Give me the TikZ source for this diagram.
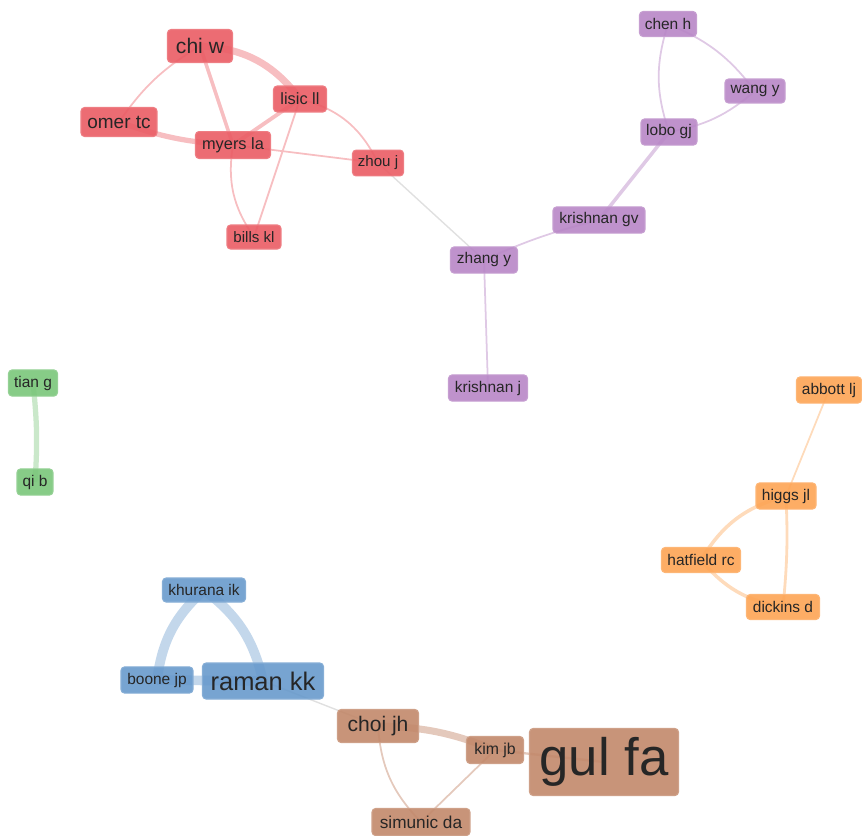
\documentclass[tikz,border=0pt]{standalone}
\usepackage{xcolor}
\usepackage{tikz}
\usepackage{fontspec}
\setmainfont{Liberation Sans}
\usetikzlibrary{backgrounds}

\definecolor{redc}{RGB}{234,92,100}
\definecolor{purc}{RGB}{184,134,198}
\definecolor{grnc}{RGB}{122,198,122}
\definecolor{orgc}{RGB}{253,164,84}
\definecolor{bluc}{RGB}{104,154,204}
\definecolor{brnc}{RGB}{194,136,106}

\tikzset{
  au/.style={rounded corners=2pt, text=black!85, inner xsep=0pt, line width=0.6pt, fill opacity=0.9, text opacity=1},
  sz/.style n args={3}{font=\fontsize{#1}{#1}\selectfont, minimum width=#2, minimum height=#3},
  redn/.style={au, fill=redc, draw=redc!80!white},
  purn/.style={au, fill=purc, draw=purc!80!white},
  grnn/.style={au, fill=grnc, draw=grnc!80!white},
  orgn/.style={au, fill=orgc, draw=orgc!80!white},
  blun/.style={au, fill=bluc, draw=bluc!80!white},
  brnn/.style={au, fill=brnc, draw=brnc!80!white},
  redl/.style={draw=redc!40, line width=#1},
  purl/.style={draw=purc!45, line width=#1},
  grnl/.style={draw=grnc!40, line width=#1},
  orgl/.style={draw=orgc!40, line width=#1},
  blul/.style={draw=bluc!40, line width=#1},
  brnl/.style={draw=brnc!45, line width=#1},
  greyl/.style={draw=black!12, line width=0.8pt}
}

\begin{document}
\begin{tikzpicture}[x=0.02cm, y=-0.02cm]
  \useasboundingbox (0,0) rectangle (862,835);
  % red cluster
  \draw (200,46) node[redn, sz={12pt}{1.30cm}{0.66cm}] (chi) {chi w}
   (300,99) node[redn, sz={9.3pt}{1.06cm}{0.52cm}] (lisic) {lisic ll}
   (119,122) node[redn, sz={10.8pt}{1.52cm}{0.58cm}] (omer) {omer tc}
   (233,145) node[redn, sz={9.3pt}{1.50cm}{0.52cm}] (myers) {myers la}
   (378,163) node[redn, sz={8.6pt}{1.02cm}{0.48cm}] (zhou) {zhou j}
   (254,237) node[redn, sz={8.6pt}{1.08cm}{0.48cm}] (bills) {bills kl};
  % purple cluster
  \draw (668,24) node[purn, sz={8.8pt}{1.14cm}{0.50cm}] (chen) {chen h}
   (755,91) node[purn, sz={8.8pt}{1.20cm}{0.48cm}] (wang) {wang y}
   (669,132) node[purn, sz={8.8pt}{1.12cm}{0.50cm}] (lobo) {lobo gj}
   (599,220) node[purn, sz={8.8pt}{1.84cm}{0.48cm}] (krgv) {krishnan gv}
   (484,260) node[purn, sz={8.8pt}{1.34cm}{0.48cm}] (zhang) {zhang y}
   (488,388) node[purn, sz={8.8pt}{1.58cm}{0.50cm}] (krj) {krishnan j};
  % green cluster
  \draw (33,383) node[grnn, sz={8.8pt}{0.98cm}{0.50cm}] (tian) {tian g}
   (35,482) node[grnn, sz={8.8pt}{0.72cm}{0.50cm}] (qi) {qi b};
  % orange cluster
  \draw (829,390) node[orgn, sz={8.8pt}{1.30cm}{0.50cm}] (abbott) {abbott lj}
   (786,496) node[orgn, sz={8.8pt}{1.20cm}{0.48cm}] (higgs) {higgs jl}
   (701,560) node[orgn, sz={8.8pt}{1.58cm}{0.50cm}] (hatfield) {hatfield rc}
   (783,607) node[orgn, sz={8.8pt}{1.46cm}{0.50cm}] (dickins) {dickins d};
  % blue cluster
  \draw (204,590) node[blun, sz={8.8pt}{1.66cm}{0.48cm}] (khurana) {khurana ik}
   (157,680) node[blun, sz={8.8pt}{1.44cm}{0.48cm}] (boone) {boone jp}
   (263,681) node[blun, sz={14.5pt}{2.42cm}{0.72cm}] (raman) {raman kk};
  % brown cluster
  \draw (378,726) node[brnn, sz={12pt}{1.62cm}{0.66cm}] (choi) {choi jh}
   (495,750) node[brnn, sz={9pt}{1.14cm}{0.54cm}] (kim) {kim jb}
   (604,762) node[brnn, sz={30pt}{2.98cm}{1.34cm}] (gul) {gul fa}
   (421,822) node[brnn, sz={9.8pt}{1.96cm}{0.54cm}] (simunic) {simunic da};

  \begin{pgfonlayer}{background}
  \draw[redl=4pt] (chi.center) to[bend left=25] (lisic.center);
  \draw[redl=1pt] (chi.center) to[bend right=12] (omer.center);
  \draw[redl=2pt] (chi.center) -- (myers.center);
  \draw[redl=3pt] (omer.center) to[bend right=8] (myers.center);
  \draw[redl=2.2pt] (myers.center) -- (lisic.center);
  \draw[redl=1pt] (myers.center) -- (zhou.center);
  \draw[redl=1pt] (myers.center) to[bend right=22] (bills.center);
  \draw[redl=1pt] (lisic.center) -- (bills.center);
  \draw[redl=1pt] (lisic.center) to[bend left=25] (zhou.center);
  \draw[greyl] (zhou.center) -- (zhang.center);
  \draw[purl=1pt] (chen.center) to[bend right=18] (lobo.center);
  \draw[purl=1pt] (chen.center) to[bend left=15] (wang.center);
  \draw[purl=1pt] (wang.center) to[bend left=15] (lobo.center);
  \draw[purl=2pt] (lobo.center) -- (krgv.center);
  \draw[purl=1pt] (krgv.center) to[bend right=5] (zhang.center);
  \draw[purl=1pt] (zhang.center) -- (krj.center);
  \draw[grnl=3pt] (tian.center) to[bend left=5] (qi.center);
  \draw[orgl=1pt] (abbott.center) -- (higgs.center);
  \draw[orgl=2pt] (higgs.center) to[bend right=22] (hatfield.center);
  \draw[orgl=2pt] (hatfield.center) to[bend right=20] (dickins.center);
  \draw[orgl=1.6pt] (higgs.center) to[bend left=4] (dickins.center);
  \draw[blul=5.5pt] (khurana.center) to[bend right=20] (boone.center);
  \draw[blul=5.5pt] (khurana.center) to[bend left=20] (raman.center);
  \draw[blul=5.5pt] (boone.center) -- (raman.center);
  \draw[greyl] (raman.center) -- (choi.center);
  \draw[brnl=4pt] (choi.center) to[bend left=10] (kim.center);
  \draw[brnl=1.3pt] (kim.center) -- (gul.center);
  \draw[brnl=1pt] (choi.center) to[bend right=20] (simunic.center);
  \draw[brnl=1pt] (kim.center) -- (simunic.center);
  \end{pgfonlayer}
\end{tikzpicture}
\end{document}
